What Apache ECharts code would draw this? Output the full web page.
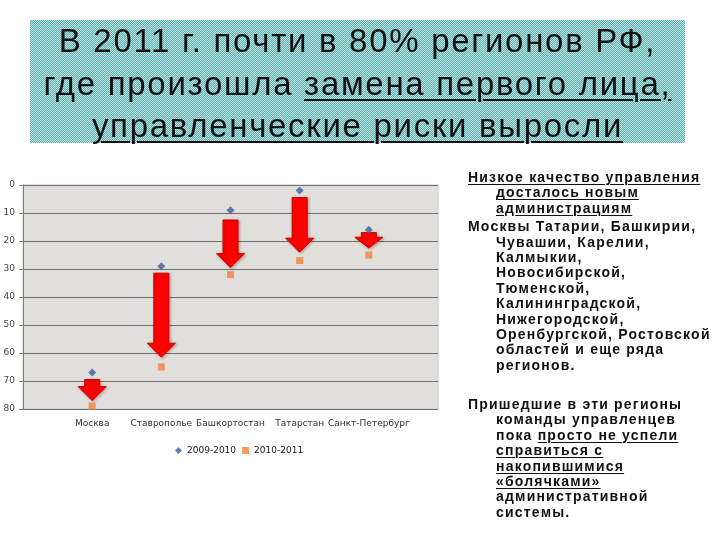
<!DOCTYPE html>
<html>
<head>
<meta charset="utf-8">
<script src="https://cdn.jsdelivr.net/npm/echarts@6/dist/echarts.min.js"></script>
<style>
  html, body { margin: 0; padding: 0; background: #fff; }
  #wrap { position: relative; width: 720px; height: 540px; overflow: hidden; }
  #ec { position: absolute; left: 0; top: 0; width: 720px; height: 540px; }
  .title {
    position: absolute; left: 30px; top: 20px; width: 655px; height: 123px;
    background-color: #a9dada;
    background-image: repeating-conic-gradient(rgba(0,120,120,0.45) 0 25%, rgba(255,255,255,0.25) 0 50%);
    background-size: 2px 2px;
    font-family: "Liberation Sans", Arial, sans-serif; font-size: 33px; line-height: 42.5px;
    letter-spacing: 1.7px; color: #111; text-align: center; white-space: nowrap;
  }
  .side {
    position: absolute; left: 468px; width: 252px; white-space: nowrap;
    font-family: "Liberation Sans", Arial, sans-serif; font-weight: bold;
    font-size: 14px; line-height: 15.4px; color: #111; letter-spacing: 1.2px;
  }
  .side p { margin: 0; padding-left: 28px; text-indent: -28px; }
  u { text-decoration-thickness: 1px; text-underline-offset: 2px; }
  .title u { text-decoration-thickness: 2px; text-underline-offset: 4px; }
</style>
</head>
<body>
<div id="wrap">
  <div id="ec"></div>
  <div class="title">
    В 2011 г. почти в 80% регионов РФ,<br>
    где произошла <u>замена первого лица,</u><br>
    <u>управленческие риски выросли</u>
  </div>
  <div class="side" style="top:170px">
    <p><u>Низкое качество управления</u><br><u>досталось новым</u><br><u>администрациям</u></p>
    <p style="margin-top:3px">Москвы Татарии, Башкирии,<br>Чувашии, Карелии,<br>Калмыкии,<br>Новосибирской,<br>Тюменской,<br>Калининградской,<br>Нижегородской,<br>Оренбургской, Ростовской<br>областей и еще ряда<br>регионов.</p>
  </div>
  <div class="side" style="top:397px">
    <p>Пришедшие в эти регионы<br>команды управленцев<br>пока <u>просто не успели</u><br><u>справиться с</u><br><u>накопившимися</u><br><u>«болячками»</u><br>административной<br>системы.</p>
  </div>
</div>
<script>
// регионы (пустые края — чтобы точки стояли как в исходнике)
var regions = ['', 'Москва', 'Ставрополье', 'Башкортостан', 'Татарстан', 'Санкт-Петербург', ''];
var rank2010 = [null, 67, 29, 9, 2, 16, null];   // 2009-2010
var rank2011 = [null, 79, 65, 32, 27, 25, null]; // 2010-2011
// стрелки: откуда и куда
var arrowFrom = [null, 69.5, 31.5, 12.5, 4.5, 17];
var arrowTo = [null, 77, 61.5, 29.5, 24, 22.5];
var yTicks = ['0', '10', '20', '30', '40', '50', '60', '70', '80'];

var arrows = [];
for (var i = 1; i <= 5; i++) {
  arrows.push([i, arrowFrom[i], arrowTo[i]]);
}

var chart = echarts.init(document.getElementById('ec'));
var option = {
  animation: false,
  textStyle: { fontFamily: 'DejaVu Sans, sans-serif' },
  legend: {
    bottom: 80, left: 170,
    itemWidth: 7, itemHeight: 7, itemGap: 6,
    textStyle: { fontSize: 9, color: '#222' },
    data: [
      { name: '2009-2010', icon: 'diamond' },
      { name: '2010-2011', icon: 'rect' }
    ]
  },
  grid: {
    left: 23, top: 185, width: 415, height: 224,
    show: true, backgroundColor: '#e0dfdb', borderColor: '#c8c8c8', borderWidth: 1
  },
  xAxis: {
    type: 'category', data: regions, boundaryGap: false,
    axisLine: { show: false }, axisTick: { show: false },
    axisLabel: { interval: 0, fontSize: 9, color: '#333', margin: 10 },
    splitLine: { show: false }
  },
  yAxis: {
    type: 'value', inverse: true, min: 0, max: 80, interval: 10,
    axisLine: { show: true, lineStyle: { color: '#808080' } },
    axisTick: { show: true, length: 4, lineStyle: { color: '#808080' } },
    axisLabel: { fontSize: 9, color: '#444', margin: 8,
      formatter: function (v) { return yTicks[v / 10]; } },
    splitLine: { lineStyle: { color: '#6e6e6e', width: 1 } }
  },
  series: [
    {
      type: 'custom',
      data: arrows,
      z: 2,
      renderItem: function (params, api) {
        var p0 = api.coord([api.value(0), api.value(1)]);
        var p1 = api.coord([api.value(0), api.value(2)]);
        var x = p0[0], sw = 7.5, hw = 14, hh = Math.min(14, (p1[1] - p0[1]) * 0.7);
        var pts = [
          [x - sw, p0[1]], [x + sw, p0[1]], [x + sw, p1[1] - hh], [x + hw, p1[1] - hh],
          [x, p1[1]], [x - hw, p1[1] - hh], [x - sw, p1[1] - hh]
        ];
        return {
          type: 'polygon',
          shape: { points: pts },
          style: { fill: '#ff0000', stroke: '#d00000', lineWidth: 1,
            shadowBlur: 3, shadowColor: 'rgba(120,0,0,0.35)', shadowOffsetX: 1, shadowOffsetY: 1 }
        };
      }
    },
    {
      name: '2009-2010', type: 'scatter', symbol: 'diamond', symbolSize: 8, z: 3,
      itemStyle: { color: '#3f5ea0' },
      data: rank2010
    },
    {
      name: '2010-2011', type: 'scatter', symbol: 'rect', symbolSize: 7, z: 3,
      itemStyle: { color: '#f2813c' },
      data: rank2011
    }
  ]
};
chart.setOption(option);
</script>
</body>
</html>
